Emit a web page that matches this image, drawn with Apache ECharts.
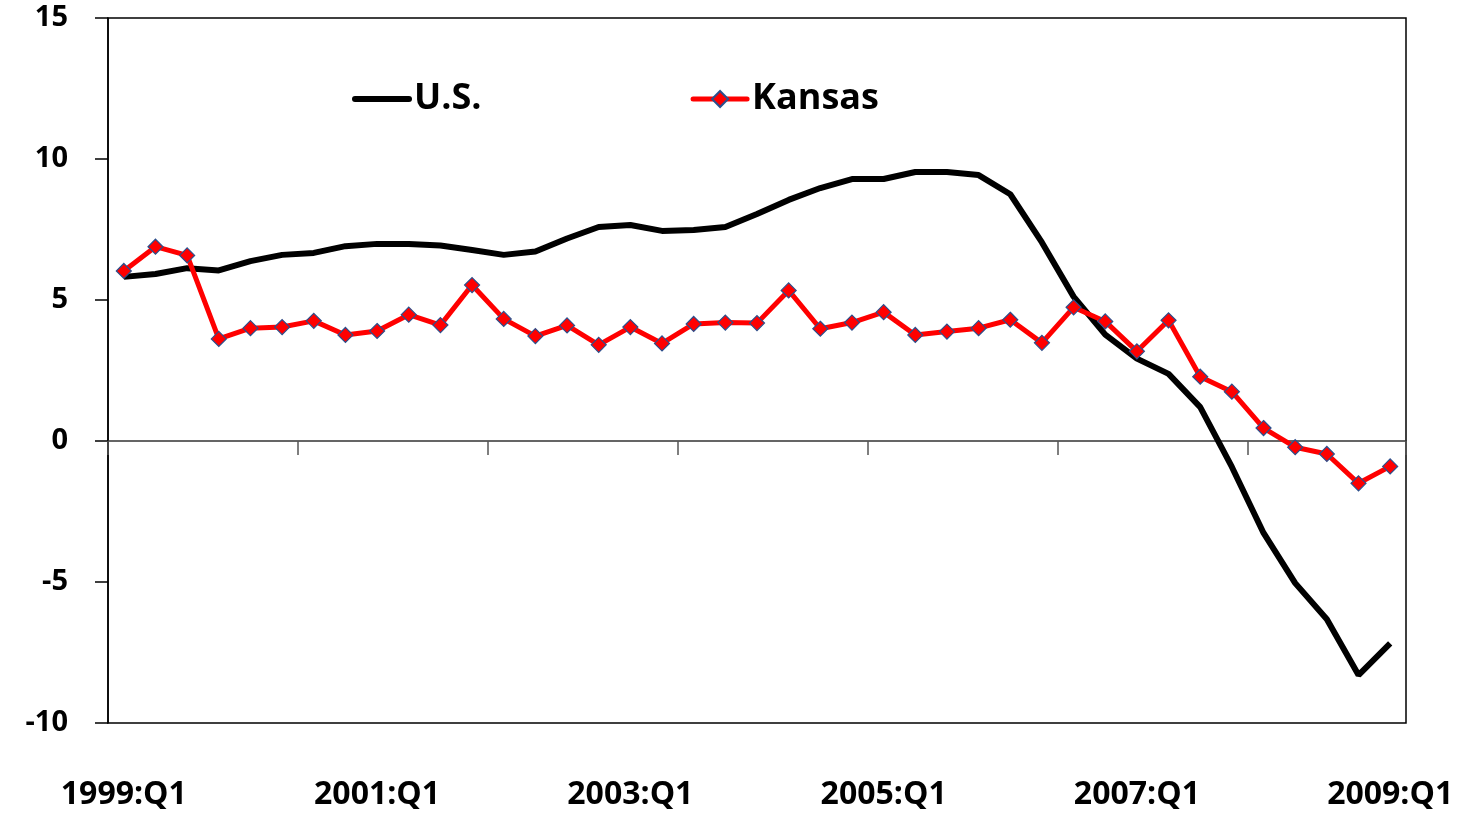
<!DOCTYPE html>
<html>
<head>
<meta charset="utf-8">
<style>
  html, body { margin: 0; padding: 0; background: #fff; }
  #chart { width: 1472px; height: 813px; }
</style>
<script src="https://cdn.jsdelivr.net/npm/echarts@6/dist/echarts.min.js"></script>
</head>
<body>
<div id="chart"></div>
<script>
// quarters 1999:Q1 .. 2009:Q1
var quarters = [];
for (var y = 1999; y <= 2009; y++) {
    for (var q = 1; q <= 4; q++) {
        if (y === 2009 && q > 1) break;
        quarters.push(y + ':Q' + q);
    }
}

var usValues = [
    5.82, 5.92, 6.13, 6.05, 6.38, 6.6, 6.67, 6.91, 6.99, 6.99,
    6.93, 6.77, 6.6, 6.72, 7.18, 7.59, 7.66, 7.45, 7.48, 7.59,
    8.05, 8.55, 8.97, 9.29, 9.29, 9.54, 9.54, 9.43, 8.75, 7.04,
    5.12, 3.77, 2.92, 2.38, 1.2, -0.92, -3.26, -5.04, -6.32, -8.3,
    -7.18
];

var kansasValues = [
    6.03, 6.89, 6.58, 3.62, 4.0, 4.04, 4.26, 3.76, 3.9, 4.48,
    4.11, 5.53, 4.33, 3.72, 4.1, 3.41, 4.04, 3.46, 4.15, 4.2,
    4.18, 5.34, 3.98, 4.2, 4.57, 3.76, 3.88, 4.0, 4.3, 3.48,
    4.74, 4.24, 3.18, 4.28, 2.28, 1.75, 0.46, -0.22, -0.46, -1.5,
    -0.9
];

var yTicks = { min: -10, max: 15, step: 5 };

var chart = echarts.init(document.getElementById('chart'));
var fontFam = '"Open Sans", "DejaVu Sans", sans-serif';

var option = {
    backgroundColor: '#ffffff',
    animation: false,
    grid: {
        left: 108, right: 66, top: 18, bottom: 90,
        show: true,
        borderColor: '#000',
        borderWidth: 1.5,
        backgroundColor: 'transparent'
    },
    legend: {
        left: 352,
        top: 81,
        padding: 0,
        itemGap: 209,
        itemWidth: 54,
        itemHeight: 20,
        textStyle: { fontSize: 36, fontWeight: 'bold', color: '#000', fontFamily: fontFam },
        data: [
            { name: 'U.S.', itemStyle: { opacity: 0 }, lineStyle: { color: '#000', width: 6, cap: 'round' } },
            { name: 'Kansas', lineStyle: { color: '#ff0000', width: 5, cap: 'round' } }
        ]
    },
    xAxis: [
        {
            // labels along the bottom edge
            type: 'category',
            position: 'bottom',
            data: quarters,
            boundaryGap: true,
            axisLine: { show: false, onZero: false },
            axisTick: { show: false },
            axisLabel: {
                interval: 7,
                margin: 56,
                fontSize: 32,
                fontWeight: 'bold',
                color: '#000',
                fontFamily: fontFam
            },
            splitLine: { show: false }
        },
        {
            // zero line with its ticks
            type: 'category',
            position: 'bottom',
            data: quarters,
            boundaryGap: true,
            axisLine: { show: true, onZero: true, lineStyle: { color: '#333', width: 1.5 } },
            axisTick: { show: true, interval: 5, length: 14, lineStyle: { color: '#555', width: 1.5 } },
            axisLabel: { show: false },
            splitLine: { show: false }
        }
    ],
    yAxis: {
        type: 'value',
        min: yTicks.min,
        max: yTicks.max,
        interval: yTicks.step,
        axisLine: { show: true, lineStyle: { color: '#000', width: 1.5 } },
        axisTick: { show: true, length: 13, lineStyle: { color: '#000', width: 1.5 } },
        axisLabel: {
            margin: 40,
            fontSize: 29,
            fontWeight: 'bold',
            color: '#000',
            fontFamily: fontFam
        },
        splitLine: { show: false }
    },
    series: [
        {
            name: 'U.S.',
            type: 'line',
            xAxisIndex: 0,
            data: usValues,
            symbol: 'none',
            lineStyle: { color: '#000', width: 6 },
            itemStyle: { color: '#000' },
            z: 2
        },
        {
            name: 'Kansas',
            type: 'line',
            xAxisIndex: 0,
            data: kansasValues,
            symbol: 'diamond',
            symbolSize: 15,
            lineStyle: { color: '#ff0000', width: 5 },
            itemStyle: { color: '#ff0000', borderColor: '#2b4f8c', borderWidth: 1.2 },
            z: 3
        }
    ]
};

chart.setOption(option);
window.addEventListener('resize', function () {
    chart.resize();
});
</script>
</body>
</html>
